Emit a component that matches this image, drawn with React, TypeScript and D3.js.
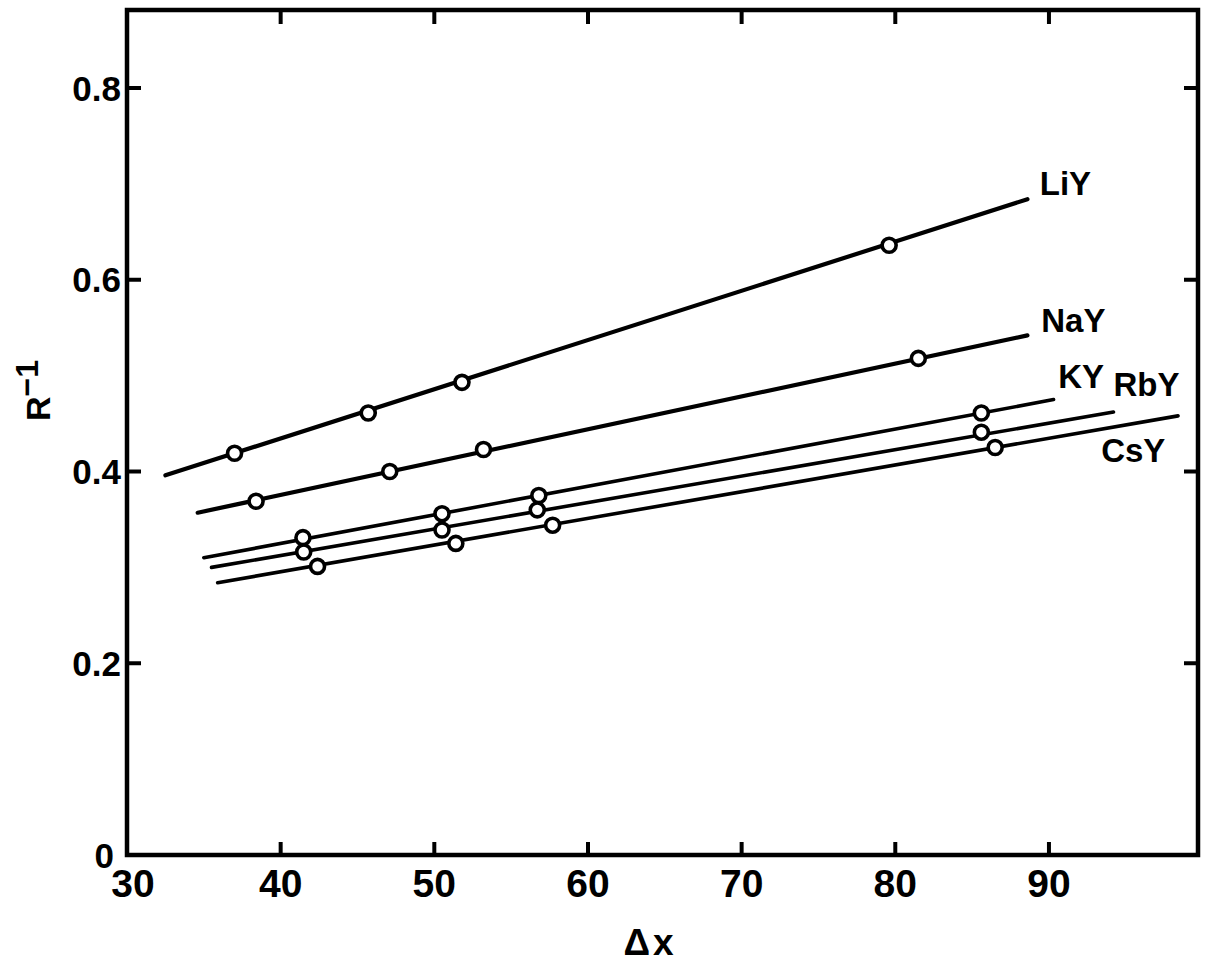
import React, { useEffect, useRef } from 'react';
import * as d3 from 'd3';

// values (x = delta x, y = 1/R)
const seriesNames = ['LiY', 'NaY', 'KY', 'RbY', 'CsY'];

const liyX = [37.0, 45.7, 51.8, 79.6];
const liyY = [0.419, 0.461, 0.493, 0.636];
const nayX = [38.4, 47.1, 53.2, 81.5];
const nayY = [0.369, 0.4, 0.423, 0.518];
const kyX = [41.45, 50.5, 56.8, 85.6];
const kyY = [0.331, 0.356, 0.375, 0.461];
const rbyX = [41.5, 50.5, 56.7, 85.6];
const rbyY = [0.316, 0.339, 0.36, 0.441];
const csyX = [42.4, 51.4, 57.7, 86.5];
const csyY = [0.301, 0.325, 0.344, 0.425];

// fitted straight lines: start and end of each drawn line
const lineX0 = [32.5, 34.6, 35.0, 35.5, 35.9];
const lineY0 = [0.396, 0.357, 0.31, 0.3, 0.284];
const lineX1 = [88.6, 88.6, 90.3, 94.2, 98.4];
const lineY1 = [0.684, 0.542, 0.475, 0.462, 0.458];

// where the curve names sit (data units)
const labelX = [89.4, 89.5, 90.6, 94.2, 93.4];
const labelY = [0.688, 0.545, 0.487, 0.479, 0.41];

const xTicks = [30, 40, 50, 60, 70, 80, 90];
const yTicks = [0, 0.2, 0.4, 0.6, 0.8];
const yTickLabels = ['0', '0.2', '0.4', '0.6', '0.8'];

const W = 1206;
const H = 965;
const FONT = '"Liberation Sans", Arial, sans-serif';

export default function App() {
  const svgRef = useRef<SVGSVGElement>(null);

  useEffect(() => {
    const svg = d3.select(svgRef.current);
    svg.selectAll('*').remove();

    const x = d3.scaleLinear().domain([30, 99.7]).range([127, 1198]);
    const y = d3.scaleLinear().domain([0, 0.8]).range([855, 88]);
    const top = 10;

    // frame
    svg.append('rect')
      .attr('x', x(30)).attr('y', top)
      .attr('width', x(99.7) - x(30)).attr('height', y(0) - top)
      .attr('fill', 'none').attr('stroke', '#000').attr('stroke-width', 4.5);

    const g = svg.append('g');

    // inward ticks on all four sides
    xTicks.slice(1).forEach(t => {
      g.append('line').attr('x1', x(t)).attr('x2', x(t)).attr('y1', y(0)).attr('y2', y(0) - 13)
        .attr('stroke', '#000').attr('stroke-width', 4);
      g.append('line').attr('x1', x(t)).attr('x2', x(t)).attr('y1', top).attr('y2', top + 14)
        .attr('stroke', '#000').attr('stroke-width', 4);
    });
    yTicks.slice(1).forEach(t => {
      g.append('line').attr('x1', x(30)).attr('x2', x(30) + 14).attr('y1', y(t)).attr('y2', y(t))
        .attr('stroke', '#000').attr('stroke-width', 4);
      g.append('line').attr('x1', x(99.7)).attr('x2', x(99.7) - 14).attr('y1', y(t)).attr('y2', y(t))
        .attr('stroke', '#000').attr('stroke-width', 4);
    });

    // tick labels
    xTicks.forEach(t => {
      g.append('text')
        .attr('x', t === 30 ? x(t) + 6 : x(t))
        .attr('y', 897)
        .attr('text-anchor', 'middle')
        .attr('font-family', FONT).attr('font-weight', 'bold').attr('font-size', 39)
        .text(String(t));
    });
    yTicks.forEach((t, i) => {
      g.append('text')
        .attr('x', t === 0 ? 114 : 121)
        .attr('y', t === 0 ? 868 : y(t) + 12.5)
        .attr('text-anchor', 'end')
        .attr('font-family', FONT).attr('font-weight', 'bold').attr('font-size', 35)
        .text(yTickLabels[i]);
    });

    // axis titles
    g.append('text')
      .attr('x', 650).attr('y', 955)
      .attr('text-anchor', 'middle')
      .attr('font-family', FONT).attr('font-weight', 'bold').attr('font-size', 37)
      .attr('letter-spacing', 3)
      .text('Δx');

    const yt = g.append('text')
      .attr('transform', 'translate(50,421) rotate(-90)')
      .attr('font-family', FONT).attr('font-weight', 'bold').attr('font-size', 34);
    yt.append('tspan').text('R');
    yt.append('tspan').attr('dy', -12).attr('font-size', 32).text('−1');

    // fitted lines
    seriesNames.forEach((name, i) => {
      g.append('line')
        .attr('x1', x(lineX0[i])).attr('y1', y(lineY0[i]))
        .attr('x2', x(lineX1[i])).attr('y2', y(lineY1[i]))
        .attr('stroke', '#000')
        .attr('stroke-width', i < 2 ? 4.2 : 3.6)
        .attr('stroke-linecap', 'round');
    });

    // points (RbY before KY so the KY circles overlap them)
    const pts: [number[], number[]][] = [
      [csyX, csyY], [rbyX, rbyY], [kyX, kyY], [nayX, nayY], [liyX, liyY],
    ];
    pts.forEach(([xs, ys]) => {
      g.selectAll(null)
        .data(xs.map((v, k) => [v, ys[k]]))
        .enter()
        .append('circle')
        .attr('cx', d => x(d[0]))
        .attr('cy', d => y(d[1]))
        .attr('r', 7)
        .attr('fill', '#fff')
        .attr('stroke', '#000')
        .attr('stroke-width', 3.6);
    });

    // curve names
    seriesNames.forEach((name, i) => {
      g.append('text')
        .attr('x', x(labelX[i])).attr('y', y(labelY[i]))
        .attr('font-family', FONT).attr('font-weight', 'bold').attr('font-size', 33)
        .text(name);
    });
  }, []);

  return (
    <svg ref={svgRef} width={W} height={H}
      style={{ position: 'absolute', left: 0, top: 0, background: '#fff' }} />
  );
}
